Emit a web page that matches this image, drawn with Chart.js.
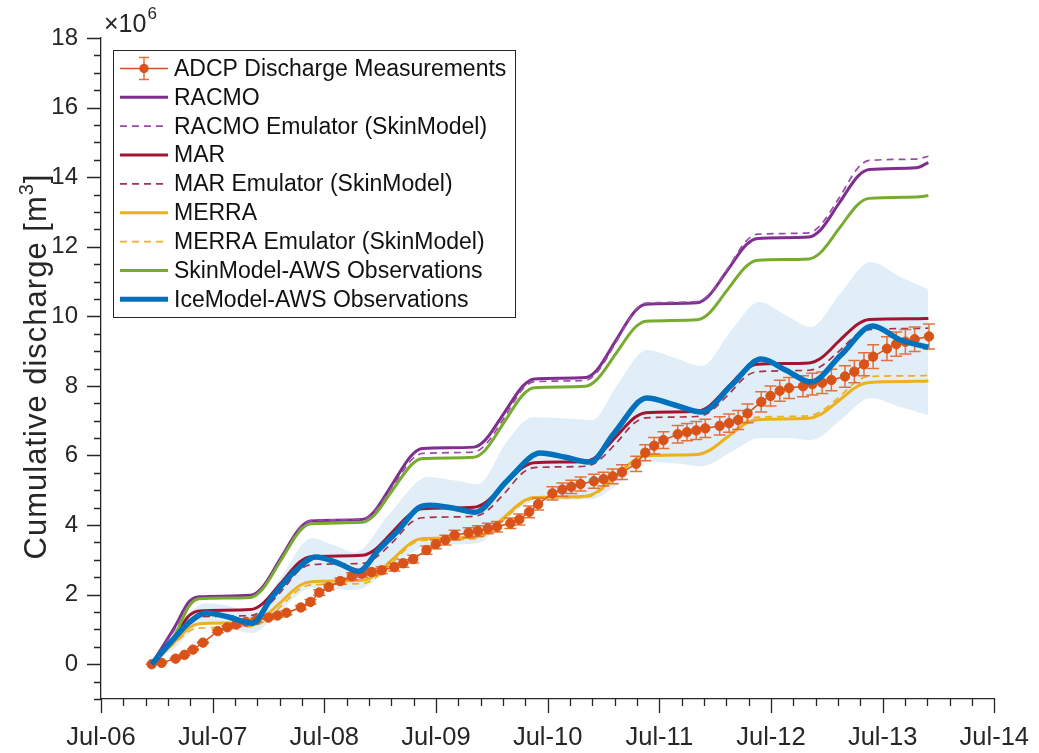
<!DOCTYPE html>
<html>
<head>
<meta charset="utf-8">
<script src="https://cdn.jsdelivr.net/npm/chart.js@4/dist/chart.umd.min.js"></script>
<style>
html,body{margin:0;padding:0;background:#ffffff;}
canvas{display:block;}
</style>
</head>
<body>
<canvas id="chart" width="1039" height="753"></canvas>
<script>
// ---------- tick labels ----------
const xMajorTicks = [2006.5, 2007.5, 2008.5, 2009.5, 2010.5, 2011.5, 2012.5, 2013.5, 2014.5];
const xTickLabels = ['Jul-06', 'Jul-07', 'Jul-08', 'Jul-09', 'Jul-10', 'Jul-11', 'Jul-12', 'Jul-13', 'Jul-14'];
const yMajorTicks = [0, 2, 4, 6, 8, 10, 12, 14, 16, 18];
const yTickLabels = ['0', '2', '4', '6', '8', '10', '12', '14', '16', '18'];

// ---------- model series (decimal year, cumulative discharge x10^6 m^3) ----------
const modelTime = [2006.954, 2007.16, 2007.29, 2007.38,
  2007.84, 2007.94, 2008.11, 2008.28, 2008.38,
  2008.84, 2008.94, 2009.11, 2009.28, 2009.38,
  2009.84, 2009.94, 2010.11, 2010.28, 2010.38,
  2010.84, 2010.94, 2011.11, 2011.28, 2011.38,
  2011.84, 2011.94, 2012.11, 2012.28, 2012.38,
  2012.84, 2012.94, 2013.11, 2013.28, 2013.38,
  2013.80, 2013.91];
const racmo    = [0, 1.07, 1.80, 1.94, 1.98, 2.19, 3.05, 3.91, 4.12, 4.16, 4.36, 5.18, 6.00, 6.20, 6.24, 6.44, 7.22, 8.00, 8.20, 8.24, 8.45, 9.30, 10.14, 10.35, 10.39, 10.58, 11.32, 12.06, 12.24, 12.28, 12.47, 13.25, 14.03, 14.22, 14.27, 14.42];
const racmoEmu = [0, 1.00, 1.72, 1.88, 1.92, 2.14, 3.00, 3.91, 4.13, 4.17, 4.36, 5.10, 5.87, 6.06, 6.10, 6.30, 7.08, 7.92, 8.12, 8.16, 8.38, 9.24, 10.16, 10.38, 10.42, 10.61, 11.36, 12.17, 12.36, 12.40, 12.61, 13.40, 14.27, 14.48, 14.52, 14.60];
const mar      = [0, 0.80, 1.40, 1.53, 1.57, 1.72, 2.33, 2.94, 3.09, 3.13, 3.26, 3.80, 4.34, 4.47, 4.51, 4.64, 5.15, 5.66, 5.79, 5.83, 5.97, 6.53, 7.09, 7.23, 7.27, 7.40, 7.95, 8.49, 8.62, 8.66, 8.78, 9.29, 9.78, 9.91, 9.93, 9.94];
const marEmu   = [0, 0.72, 1.24, 1.36, 1.40, 1.53, 2.08, 2.71, 2.86, 2.90, 3.02, 3.50, 4.08, 4.21, 4.25, 4.37, 4.90, 5.51, 5.65, 5.69, 5.81, 6.34, 6.94, 7.08, 7.12, 7.23, 7.72, 8.28, 8.41, 8.45, 8.55, 9.00, 9.50, 9.62, 9.65, 9.66];
const merra    = [0, 0.64, 1.05, 1.16, 1.20, 1.31, 1.78, 2.26, 2.37, 2.41, 2.53, 3.01, 3.49, 3.61, 3.65, 3.76, 4.22, 4.68, 4.79, 4.83, 4.95, 5.41, 5.87, 5.99, 6.03, 6.13, 6.53, 6.93, 7.03, 7.07, 7.17, 7.58, 8.00, 8.10, 8.13, 8.14];
const merraEmu = [0, 0.60, 0.95, 1.04, 1.08, 1.19, 1.66, 2.16, 2.28, 2.32, 2.44, 2.92, 3.44, 3.56, 3.60, 3.71, 4.16, 4.64, 4.76, 4.80, 4.91, 5.37, 5.86, 5.98, 6.02, 6.12, 6.54, 6.99, 7.10, 7.14, 7.25, 7.68, 8.16, 8.27, 8.29, 8.30];
const skinAws  = [0, 0.83, 1.68, 1.88, 1.92, 2.13, 2.98, 3.83, 4.04, 4.08, 4.26, 5.00, 5.73, 5.91, 5.95, 6.15, 6.95, 7.75, 7.95, 7.99, 8.18, 8.92, 9.67, 9.86, 9.90, 10.07, 10.76, 11.44, 11.61, 11.65, 11.82, 12.52, 13.22, 13.39, 13.43, 13.47];

// ---------- IceModel-AWS ----------
const iceTime  = [2006.954, 2007.141, 2007.293, 2007.444, 2007.649, 2007.854, 2008.032, 2008.245, 2008.423, 2008.628, 2008.806, 2008.984, 2009.163, 2009.341, 2009.448, 2009.652, 2009.848, 2010.142, 2010.436, 2010.659, 2010.881, 2011.095, 2011.389, 2011.638, 2011.879, 2012.146, 2012.413, 2012.635, 2012.858, 2013.125, 2013.410, 2013.659, 2013.909];
const iceValue = [0, 0.69, 1.21, 1.47, 1.35, 1.18, 1.93, 2.70, 3.08, 2.90, 2.67, 3.28, 3.85, 4.49, 4.57, 4.49, 4.37, 5.29, 6.07, 5.95, 5.81, 6.64, 7.65, 7.45, 7.25, 8.02, 8.77, 8.45, 8.11, 8.88, 9.72, 9.32, 9.11];

// ---------- IceModel uncertainty band ----------
const bandTime  = [2006.954, 2007.159, 2007.444, 2007.649, 2007.854, 2008.094, 2008.388, 2008.584, 2008.780, 2009.073, 2009.430, 2009.652, 2009.875, 2010.142, 2010.365, 2010.632, 2010.899, 2011.122, 2011.389, 2011.638, 2011.878, 2012.146, 2012.395, 2012.635, 2012.858, 2013.125, 2013.392, 2013.659, 2013.909];
const bandUpper = [0, 0.98, 1.75, 1.67, 1.50, 2.42, 3.62, 3.42, 3.22, 4.28, 5.38, 5.29, 5.18, 6.44, 7.10, 7.07, 7.02, 8.02, 9.03, 8.80, 8.57, 9.60, 10.41, 10.03, 9.69, 10.67, 11.56, 11.13, 10.78];
const bandLower = [0, 0.46, 1.21, 1.04, 0.89, 1.50, 2.19, 2.16, 2.13, 2.70, 3.42, 3.45, 3.48, 4.20, 4.66, 4.72, 4.74, 5.15, 5.81, 5.78, 5.69, 6.10, 6.50, 6.50, 6.44, 7.02, 7.65, 7.39, 7.16];

// ---------- ADCP discharge measurements ----------
const adcpTime  = [2006.954, 2007.043, 2007.168, 2007.248, 2007.324, 2007.413, 2007.546, 2007.631, 2007.711, 2007.796, 2007.889, 2008.000, 2008.081, 2008.161, 2008.290, 2008.376, 2008.455, 2008.539, 2008.643, 2008.747, 2008.836, 2008.922, 2009.014, 2009.127, 2009.207, 2009.296, 2009.415, 2009.498, 2009.584, 2009.667, 2009.792, 2009.875, 2009.964, 2010.047, 2010.166, 2010.246, 2010.335, 2010.415, 2010.543, 2010.632, 2010.712, 2010.795, 2010.914, 2011.000, 2011.082, 2011.166, 2011.293, 2011.374, 2011.454, 2011.537, 2011.665, 2011.748, 2011.831, 2011.912, 2012.041, 2012.125, 2012.206, 2012.290, 2012.413, 2012.496, 2012.579, 2012.662, 2012.787, 2012.870, 2012.959, 2013.041, 2013.163, 2013.247, 2013.333, 2013.415, 2013.539, 2013.622, 2013.704, 2013.787, 2013.915];
const adcpValue = [0, 0.04, 0.16, 0.27, 0.42, 0.62, 0.95, 1.06, 1.14, 1.22, 1.27, 1.34, 1.40, 1.48, 1.63, 1.79, 2.06, 2.22, 2.39, 2.53, 2.60, 2.65, 2.70, 2.79, 2.90, 3.02, 3.28, 3.45, 3.57, 3.71, 3.78, 3.83, 3.90, 3.95, 4.05, 4.16, 4.38, 4.60, 4.91, 5.02, 5.10, 5.18, 5.26, 5.32, 5.40, 5.52, 5.76, 6.08, 6.28, 6.44, 6.61, 6.67, 6.72, 6.78, 6.85, 6.93, 7.02, 7.21, 7.54, 7.71, 7.86, 7.94, 7.99, 8.05, 8.09, 8.17, 8.27, 8.41, 8.62, 8.84, 9.07, 9.20, 9.27, 9.34, 9.42];
const adcpError = [0, 0, 0.01, 0.01, 0.02, 0.02, 0.04, 0.04, 0.04, 0.05, 0.05, 0.05, 0.05, 0.06, 0.06, 0.07, 0.08, 0.08, 0.09, 0.10, 0.10, 0.10, 0.10, 0.11, 0.11, 0.11, 0.12, 0.13, 0.14, 0.14, 0.14, 0.15, 0.15, 0.15, 0.15, 0.16, 0.17, 0.17, 0.19, 0.19, 0.19, 0.20, 0.20, 0.20, 0.21, 0.21, 0.22, 0.23, 0.24, 0.24, 0.25, 0.25, 0.26, 0.26, 0.26, 0.26, 0.27, 0.27, 0.29, 0.29, 0.30, 0.30, 0.30, 0.31, 0.31, 0.31, 0.31, 0.32, 0.33, 0.34, 0.34, 0.35, 0.35, 0.35, 0.36];

// ---------- styling ----------
const FONT = '"Liberation Sans", Arial, Helvetica, sans-serif';
const AXIS = '#262626';
const C_ADCP = '#D95319', C_RACMO = '#7E2F8E', C_RACMO_E = '#9A4BAA', C_MAR = '#A2142F', C_MAR_E = '#A8304A',
      C_MERRA = '#EDB120', C_MERRA_E = '#EDB120', C_SKIN = '#77AC30', C_ICE = '#0072BD', C_BAND = '#E1EEF8';
const C_ERR = 'rgba(225,105,50,0.95)';
const DASH = [7, 5];

function pts(xs, ys) { return xs.map((x, i) => ({ x: x, y: ys[i] })); }
function lineDs(label, xs, ys, color, width, dash) {
  return { label, data: pts(xs, ys), borderColor: color, borderWidth: width, borderDash: dash || [],
           pointRadius: 0, fill: false, cubicInterpolationMode: 'monotone', borderCapStyle: 'butt' };
}

const datasets = [
  lineDs('IceModel-AWS Observations', iceTime, iceValue, C_ICE, 5.5),
  { label: 'ADCP Discharge Measurements', data: pts(adcpTime, adcpValue), borderColor: C_ADCP, borderWidth: 1.5,
    pointRadius: 4.7, pointBackgroundColor: C_ADCP, pointBorderColor: C_ADCP, pointBorderWidth: 1, fill: false, tension: 0 },
  lineDs('SkinModel-AWS Observations', modelTime, skinAws, C_SKIN, 3),
  lineDs('MERRA Emulator (SkinModel)', modelTime, merraEmu, C_MERRA_E, 1.7, DASH),
  lineDs('MERRA', modelTime, merra, C_MERRA, 3),
  lineDs('MAR Emulator (SkinModel)', modelTime, marEmu, C_MAR_E, 1.7, DASH),
  lineDs('MAR', modelTime, mar, C_MAR, 3),
  lineDs('RACMO Emulator (SkinModel)', modelTime, racmoEmu, C_RACMO_E, 1.7, DASH),
  lineDs('RACMO', modelTime, racmo, C_RACMO, 3),
  { label: 'band upper', data: pts(bandTime, bandUpper), borderWidth: 0, borderColor: 'rgba(0,0,0,0)', pointRadius: 0,
    fill: '+1', backgroundColor: C_BAND, cubicInterpolationMode: 'monotone' },
  { label: 'band lower', data: pts(bandTime, bandLower), borderWidth: 0, borderColor: 'rgba(0,0,0,0)', pointRadius: 0,
    fill: false, cubicInterpolationMode: 'monotone' }
];

const legendEntries = [
  { label: 'ADCP Discharge Measurements', color: C_ADCP, width: 1.5, adcp: true },
  { label: 'RACMO', color: C_RACMO, width: 3 },
  { label: 'RACMO Emulator (SkinModel)', color: C_RACMO_E, width: 1.7, dash: DASH },
  { label: 'MAR', color: C_MAR, width: 3 },
  { label: 'MAR Emulator (SkinModel)', color: C_MAR_E, width: 1.7, dash: DASH },
  { label: 'MERRA', color: C_MERRA, width: 3 },
  { label: 'MERRA Emulator (SkinModel)', color: C_MERRA_E, width: 1.7, dash: DASH },
  { label: 'SkinModel-AWS Observations', color: C_SKIN, width: 3 },
  { label: 'IceModel-AWS Observations', color: C_ICE, width: 5 }
];

function spacedText(ctx, text, spacing) {
  if ('letterSpacing' in ctx) { ctx.letterSpacing = spacing + 'px'; }
}

const decorations = {
  id: 'decorations',
  beforeDatasetDraw(chart, args) {
    const ds = chart.data.datasets[args.index];
    if (ds.label !== 'ADCP Discharge Measurements') return;
    const xs = chart.scales.x, ys = chart.scales.y, ctx = chart.ctx;
    ctx.save();
    ctx.strokeStyle = C_ERR;
    ctx.lineWidth = 1.5;
    adcpTime.forEach((t, i) => {
      const px = xs.getPixelForValue(t);
      const top = ys.getPixelForValue(adcpValue[i] + adcpError[i]);
      const bot = ys.getPixelForValue(adcpValue[i] - adcpError[i]);
      ctx.beginPath();
      ctx.moveTo(px, top); ctx.lineTo(px, bot);
      ctx.moveTo(px - 6, top); ctx.lineTo(px + 6, top);
      ctx.moveTo(px - 6, bot); ctx.lineTo(px + 6, bot);
      ctx.stroke();
    });
    ctx.restore();
  },
  afterDraw(chart) {
    const ctx = chart.ctx, xs = chart.scales.x, ys = chart.scales.y, a = chart.chartArea;
    ctx.save();
    // tick marks (outward)
    ctx.strokeStyle = AXIS; ctx.lineWidth = 1.3;
    ctx.beginPath();
    for (let i = 0; i <= 40; i++) {
      const v = xMajorTicks[0] + i * 0.2;
      const px = Math.round(xs.getPixelForValue(v)) + 0.5;
      const len = (i % 5 === 0) ? 14 : 7;
      ctx.moveTo(px, a.bottom); ctx.lineTo(px, a.bottom + len);
    }
    for (let i = 0; i <= 38; i++) {
      const v = -1 + i * 0.5;
      const py = Math.round(ys.getPixelForValue(v)) + 0.5;
      const len = yMajorTicks.includes(v) ? 14 : 7;
      ctx.moveTo(a.left, py); ctx.lineTo(a.left - len, py);
    }
    ctx.stroke();

    // exponent label
    ctx.fillStyle = AXIS;
    ctx.textBaseline = 'alphabetic';
    ctx.textAlign = 'left';
    ctx.font = '25px ' + FONT;
    ctx.fillText('\u00D710', 104, 32);
    const w10 = ctx.measureText('\u00D710').width;
    ctx.font = '17px ' + FONT;
    ctx.fillText('6', 104 + w10 + 1, 19);

    // y-axis title
    ctx.save();
    spacedText(ctx, '', 1);
    const t1 = 'Cumulative discharge [m', t2 = '3', t3 = ']';
    ctx.font = '31px ' + FONT;
    const w1 = ctx.measureText(t1).width, w3 = ctx.measureText(t3).width;
    ctx.font = '20px ' + FONT;
    const w2 = ctx.measureText(t2).width;
    const total = w1 + w2 + w3;
    ctx.translate(46, (a.top + a.bottom) / 2 - 2);
    ctx.rotate(-Math.PI / 2);
    ctx.font = '31px ' + FONT;
    ctx.fillText(t1, -total / 2, 0);
    ctx.font = '20px ' + FONT;
    ctx.fillText(t2, -total / 2 + w1, -13);
    ctx.font = '31px ' + FONT;
    ctx.fillText(t3, -total / 2 + w1 + w2, 0);
    ctx.restore();

    // legend
    const lx = 113, ly = 50, lw = 402, lh = 267;
    ctx.fillStyle = '#ffffff';
    ctx.fillRect(lx, ly, lw, lh);
    ctx.strokeStyle = AXIS; ctx.lineWidth = 1;
    ctx.strokeRect(lx + 0.5, ly + 0.5, lw, lh);
    ctx.font = '23px ' + FONT;
    ctx.textBaseline = 'middle';
    legendEntries.forEach((e, i) => {
      const y = 68.5 + i * 28.85;
      ctx.save();
      ctx.strokeStyle = e.color; ctx.lineWidth = e.width;
      ctx.setLineDash(e.dash || []);
      ctx.beginPath(); ctx.moveTo(120, y); ctx.lineTo(168, y); ctx.stroke();
      if (e.adcp) {
        ctx.setLineDash([]);
        ctx.strokeStyle = C_ERR; ctx.lineWidth = 1.5;
        ctx.beginPath();
        ctx.moveTo(144, y - 11); ctx.lineTo(144, y + 11);
        ctx.moveTo(139, y - 11); ctx.lineTo(149, y - 11);
        ctx.moveTo(139, y + 11); ctx.lineTo(149, y + 11);
        ctx.stroke();
        ctx.fillStyle = C_ADCP;
        ctx.beginPath(); ctx.arc(144, y, 4.7, 0, Math.PI * 2); ctx.fill();
      }
      ctx.restore();
      ctx.fillStyle = '#111111';
      ctx.fillText(e.label, 174, y + 1);
    });
    ctx.restore();
  }
};

new Chart(document.getElementById('chart').getContext('2d'), {
  type: 'line',
  data: { datasets },
  options: {
    responsive: false,
    animation: false,
    devicePixelRatio: 1,
    layout: { padding: { top: 38, right: 40, left: 0, bottom: 0 } },
    plugins: { legend: { display: false }, tooltip: { enabled: false } },
    scales: {
      x: {
        type: 'linear', min: 2006.5, max: 2014.5,
        afterBuildTicks: s => { s.ticks = xMajorTicks.map(v => ({ value: v })); },
        afterFit: s => { s.height = 54; },
        ticks: { callback: v => xTickLabels[xMajorTicks.indexOf(v)], autoSkip: false, maxRotation: 0, minRotation: 0,
                 padding: 10, color: AXIS, font: { family: FONT, size: 25.5 } },
        grid: { drawOnChartArea: false, drawTicks: true, tickLength: 14, tickColor: 'rgba(0,0,0,0)' },
        border: { display: true, color: AXIS, width: 1.3 }
      },
      y: {
        type: 'linear', min: -1, max: 18,
        afterBuildTicks: s => { s.ticks = yMajorTicks.map(v => ({ value: v })); },
        afterFit: s => { s.width = 101; },
        ticks: { callback: v => yTickLabels[yMajorTicks.indexOf(v)], autoSkip: false, padding: 9,
                 color: AXIS, font: { family: FONT, size: 24 } },
        grid: { drawOnChartArea: false, drawTicks: true, tickLength: 14, tickColor: 'rgba(0,0,0,0)' },
        border: { display: true, color: AXIS, width: 1.3 }
      }
    }
  },
  plugins: [decorations]
});
</script>
</body>
</html>
